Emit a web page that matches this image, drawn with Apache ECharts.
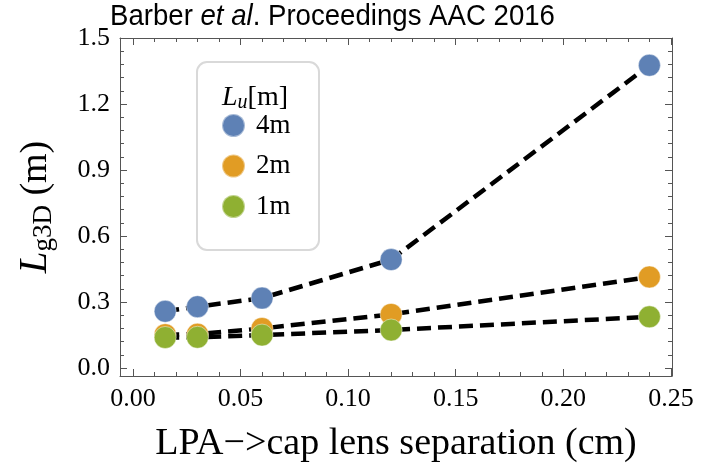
<!DOCTYPE html>
<html>
<head>
<meta charset="utf-8">
<script src="https://cdn.jsdelivr.net/npm/echarts@6/dist/echarts.min.js"></script>
<style>
  html, body { margin: 0; padding: 0; background: #fff; }
  #chart { width: 713px; height: 468px; }
</style>
</head>
<body>
<div id="chart"></div>
<script>
// LPA -> cap lens separation (cm)
const separation = [0.015, 0.03, 0.06, 0.12, 0.24];
// L_g3D (m) for each undulator length L_u
const lg3d4m = [0.258, 0.279, 0.318, 0.493, 1.376];
const lg3d2m = [0.152, 0.154, 0.180, 0.244, 0.414];
const lg3d1m = [0.139, 0.140, 0.150, 0.173, 0.233];
const seriesNames = ['4m', '2m', '1m'];
const seriesColors = ['#5E81B5', '#E19C24', '#8FB032'];

// frame ticks
const xMajorTicks = [0, 0.05, 0.10, 0.15, 0.20, 0.25];
const yMajorTicks = [0, 0.3, 0.6, 0.9, 1.2, 1.5];
const xMinorTicks = [];
for (let i = 1; i < 25; i++) if (i % 5) xMinorTicks.push(i / 100);
const yMinorTicks = [];
for (let i = 1; i < 25; i++) if (i % 5) yMinorTicks.push(i * 0.06);

const X_MIN = -0.006, X_MAX = 0.2505;
const Y_MIN = -0.036, Y_MAX = 1.5;
const FRAME = '#555';
const SERIF = 'Liberation Serif';

function xAxisDef(pos, ticks, len, withLabels, showLine) {
  return {
    type: 'value', position: pos, min: X_MIN, max: X_MAX,
    splitLine: { show: false },
    axisLine: { show: showLine, onZero: false, lineStyle: { color: FRAME, width: 1 } },
    axisTick: { show: true, inside: true, length: len, customValues: ticks,
                lineStyle: { color: FRAME, width: 1 } },
    axisLabel: withLabels ? {
      show: true, customValues: ticks, margin: 10,
      formatter: v => v.toFixed(2),
      fontFamily: SERIF, fontSize: 26, color: '#000'
    } : { show: false }
  };
}
function yAxisDef(pos, ticks, len, withLabels, showLine) {
  return {
    type: 'value', position: pos, min: Y_MIN, max: Y_MAX,
    splitLine: { show: false },
    axisLine: { show: showLine, onZero: false, lineStyle: { color: FRAME, width: 1 } },
    axisTick: { show: true, inside: true, length: len, customValues: ticks,
                lineStyle: { color: FRAME, width: 1 } },
    axisLabel: withLabels ? {
      show: true, customValues: ticks, margin: 10,
      formatter: v => v.toFixed(1),
      fontFamily: SERIF, fontSize: 26, color: '#000'
    } : { show: false }
  };
}

const xAxes = [
  xAxisDef('bottom', xMajorTicks, 7, true, true),
  xAxisDef('top', xMajorTicks, 7, false, true),
  xAxisDef('bottom', xMinorTicks, 4, false, false),
  xAxisDef('top', xMinorTicks, 4, false, false)
];
xAxes[0].name = 'LPA\u2212>cap lens separation (cm)';
xAxes[0].nameLocation = 'middle';
xAxes[0].nameGap = 49;
xAxes[0].nameTextStyle = { fontFamily: SERIF, fontSize: 38, color: '#000' };

const yAxes = [
  yAxisDef('left', yMajorTicks, 7, true, true),
  yAxisDef('right', yMajorTicks, 7, false, true),
  yAxisDef('left', yMinorTicks, 4, false, false),
  yAxisDef('right', yMinorTicks, 4, false, false)
];
yAxes[0].name = '{i|L}{s|g3D}{n| (m)}';
yAxes[0].nameLocation = 'middle';
yAxes[0].nameRotate = 90;
yAxes[0].nameGap = 63;
yAxes[0].nameTextStyle = {
  fontFamily: SERIF, fontSize: 38, color: '#000',
  rich: {
    i: { fontFamily: SERIF, fontSize: 39, fontStyle: 'italic', color: '#000', lineHeight: 42 },
    s: { fontFamily: SERIF, fontSize: 27, color: '#000', lineHeight: 42, verticalAlign: 'bottom', padding: [12, 0, 0, 0] },
    n: { fontFamily: SERIF, fontSize: 38, color: '#000', lineHeight: 42 }
  }
};

const seriesData = [lg3d4m, lg3d2m, lg3d1m];
const pairs = arr => separation.map((x, k) => [x, arr[k]]);

// dashed connecting lines first, points on top (blue, orange, green)
const series = [];
seriesData.forEach(arr => {
  series.push({
    type: 'line', data: pairs(arr), symbol: 'none', silent: true, z: 2,
    lineStyle: { color: '#000', width: 4.5, type: [14, 7] }
  });
});
seriesData.forEach((arr, k) => {
  series.push({
    type: 'scatter', name: seriesNames[k], data: pairs(arr), symbolSize: 22, z: 3,
    itemStyle: { color: seriesColors[k], opacity: 1,
                 borderColor: 'rgba(255,255,255,0.45)', borderWidth: 1 }
  });
});

const chart = echarts.init(document.getElementById('chart'), null, { renderer: 'canvas' });
chart.setOption({
  animation: false,
  backgroundColor: '#fff',
  grid: { left: 120, right: 41, top: 38, bottom: 90, containLabel: false },
  xAxis: xAxes,
  yAxis: yAxes,
  legend: {
    data: seriesNames, orient: 'vertical', left: 221, top: 112, padding: 0,
    itemWidth: 23, itemHeight: 23, itemGap: 13.5, icon: 'circle',
    formatter: n => '{t|' + n + '}',
    textStyle: {
      fontFamily: SERIF, fontSize: 27, color: '#000',
      rich: { t: { fontFamily: SERIF, fontSize: 27, color: '#000', padding: [0, 0, 0, 6] } }
    }
  },
  graphic: [
    {
      type: 'rect', z: 0, silent: true,
      shape: { x: 197, y: 62, width: 122, height: 188, r: 10 },
      style: { fill: '#fff', stroke: '#d9d9d9', lineWidth: 2 }
    },
    {
      type: 'text', x: 222, y: 98, silent: true,
      style: {
        text: '{i|L}{u|u}{n|[m]}',
        verticalAlign: 'middle',
        rich: {
          i: { fontFamily: SERIF, fontSize: 28, fontStyle: 'italic', fill: '#000', lineHeight: 30 },
          u: { fontFamily: SERIF, fontSize: 20, fontStyle: 'italic', fill: '#000', lineHeight: 30, verticalAlign: 'bottom', padding: [8, 0, 0, 0] },
          n: { fontFamily: SERIF, fontSize: 28, fill: '#000', lineHeight: 30 }
        }
      }
    },
    {
      type: 'text', x: 110, y: 2, scaleX: 0.92, silent: true, z: 10,
      style: {
        text: '{n|Barber }{i|et al}{n|. Proceedings AAC 2016}',
        rich: {
          n: { fontFamily: 'Liberation Sans', fontSize: 30, fill: '#000' },
          i: { fontFamily: 'Liberation Sans', fontSize: 30, fontStyle: 'italic', fill: '#000' }
        }
      }
    }
  ],
  series: series
});
</script>
</body>
</html>
